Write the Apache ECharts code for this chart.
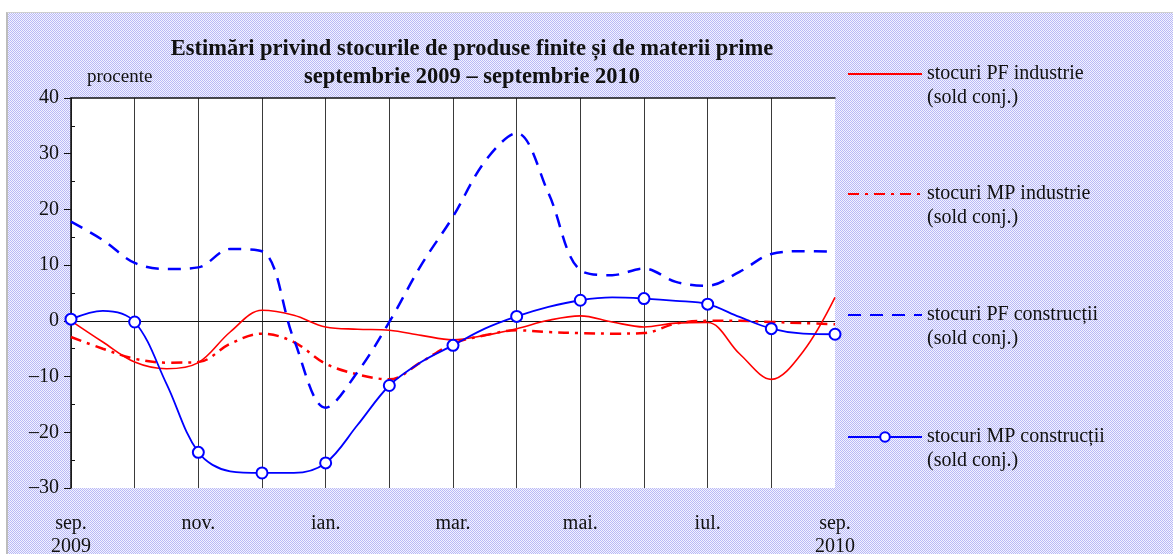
<!DOCTYPE html>
<html>
<head>
<meta charset="utf-8">
<script src="https://cdn.jsdelivr.net/npm/echarts@6/dist/echarts.min.js"></script>
<style>
  html, body { margin: 0; padding: 0; background: #fff; }
  #frame {
    position: absolute; left: 6px; top: 12px; width: 1167px; height: 542px;
    box-sizing: border-box;
    border-left: 2px solid #bdbdbd; border-top: 1px solid #cfcfcf;
    background: repeating-conic-gradient(#b9b9f6 0 25%, #f3f3ff 0 50%) 0 0 / 2px 2px;
  }
  #chart { position: absolute; left: 0; top: 0; width: 1173px; height: 554px; }
</style>
</head>
<body>
<div id="frame"></div>
<div id="chart"></div>
<script>
// luni (puncte la jumatate de luna intre ele)
var months = ['sep.', 'oct.', 'nov.', 'dec.', 'ian.', 'feb.', 'mar.', 'apr.', 'mai.', 'iun.', 'iul.', 'aug.', 'sep.'];
var years = ['2009', '2010'];
var yTicks = [-30, 40, 10];

// valori, sep 2009 .. sep 2010, pas de o jumatate de luna
var pfIndustrie = [0, -3.8, -7.4, -8.6, -7.5, -2.0, 1.9, 1.0, -1.1, -1.5, -1.7, -2.6, -3.4,
  -2.6, -1.4, 0.1, 0.9, -0.2, -1.1, -0.4, -0.3, -5.9, -10.5, -5.5, 4.2];
var mpIndustrie = [-2.9, -5.0, -6.8, -7.5, -7.4, -4.1, -2.3, -3.8, -7.7, -9.6, -10.5, -7.4, -4.1,
  -2.6, -1.7, -2.0, -2.2, -2.3, -2.2, -0.5, 0, 0, -0.2, -0.4, -0.6];
var pfConstructii = [17.8, 14.5, 10.4, 9.3, 9.6, 12.9, 12.5, -3.3, -15.6, -9.2, -0.2, 10.0, 18.7,
  28.6, 33.7, 22.9, 9.1, 8.2, 9.4, 7.0, 6.3, 8.8, 12.0, 12.5, 12.4];
var mpConstructii = [0.3, 1.8, -0.2, -11.3, -23.6, -27.0, -27.3, -27.3, -25.5, -18.7, -11.6, -7.4, -4.4,
  -1.4, 0.8, 2.5, 3.7, 4.2, 4.0, 3.6, 3.0, 0.7, -1.4, -2.3, -2.4];

var names = ['stocuri PF industrie', 'stocuri MP industrie', 'stocuri PF construcții', 'stocuri MP construcții'];

var categories = [];
for (var i = 0; i < months.length; i++) {
  categories.push(months[i]);
  if (i < months.length - 1) categories.push('');
}

var serif = '"Liberation Serif", "Times New Roman", serif';

var chart = echarts.init(document.getElementById('chart'), null, { renderer: 'canvas' });

function legendAt(name, top, hideSymbol) {
  return {
    data: [name],
    left: 847,
    top: top,
    padding: 0,
    itemWidth: 74,
    itemHeight: 12,
    selectedMode: false,
    itemStyle: hideSymbol ? { opacity: 0 } : {},
    // linie goala deasupra ca simbolul sa stea pe primul rand
    formatter: function (n) { return '\n' + n + '\n(sold conj.)'; },
    textStyle: { fontFamily: serif, fontSize: 20, color: '#111', lineHeight: 24 }
  };
}

chart.setOption({
  backgroundColor: 'transparent',
  animation: false,
  title: [
    {
      text: 'Estimări privind stocurile de produse finite și de materii prime\nseptembrie 2009 – septembrie 2010',
      left: 467, top: 30, textAlign: 'center',
      textStyle: { fontFamily: serif, fontSize: 22.5, fontWeight: 'bold', color: '#111', lineHeight: 28 }
    },
    {
      text: 'procente', left: 82, top: 63,
      textStyle: { fontFamily: serif, fontSize: 19, fontWeight: 'normal', color: '#111' }
    }
  ],
  legend: [
    legendAt(names[0], 38, true),
    legendAt(names[1], 158, true),
    legendAt(names[2], 279, true),
    legendAt(names[3], 401, false)
  ],
  grid: {
    left: 71, top: 98, width: 764, height: 390,
    outerBoundsMode: 'none', containLabel: false,
    show: true, backgroundColor: '#fff', borderWidth: 0
  },
  xAxis: [
    {
      type: 'category', data: categories, boundaryGap: false, position: 'bottom',
      axisLine: { show: false, onZero: false },
      axisTick: { show: false },
      splitLine: {
        show: true,
        interval: function (idx) { return idx % 2 === 0 && idx < categories.length - 1; },
        lineStyle: { color: '#3a3a3a', width: 1 }
      },
      axisLabel: {
        interval: function (idx) { return idx % 4 === 0; },
        margin: 24,
        fontFamily: serif, fontSize: 20, color: '#111', lineHeight: 23,
        formatter: function (v, idx) {
          if (idx === 0) return v + '\n' + years[0];
          if (idx === categories.length - 1) return v + '\n' + years[1];
          return v;
        }
      }
    },
    {
      type: 'category', data: categories, boundaryGap: false, position: 'top',
      axisLine: { show: true, onZero: false, lineStyle: { color: '#111', width: 1.5 } },
      axisTick: { show: false }, axisLabel: { show: false }, splitLine: { show: false }
    }
  ],
  yAxis: [
    {
      type: 'value', min: yTicks[0], max: yTicks[1], interval: yTicks[2], position: 'left',
      axisLine: { show: true, lineStyle: { color: '#111', width: 1.5 } },
      axisTick: { show: true, length: 7, lineStyle: { color: '#111' } },
      splitLine: { show: false },
      axisLabel: {
        margin: 12, fontFamily: serif, fontSize: 20, color: '#111',
        formatter: function (v) { return String(v).replace('-', '–'); }
      }
    },
    {
      type: 'value', min: yTicks[0], max: yTicks[1], interval: yTicks[2], position: 'right', offset: -764,
      axisLine: { show: false }, axisLabel: { show: false }, splitLine: { show: false },
      axisTick: { show: false },
      minorTick: { show: true, splitNumber: 2, length: 4, lineStyle: { color: '#111' } }
    }
  ],
  series: [
    {
      name: names[0], type: 'line', smooth: 0.35, symbol: 'none', z: 3,
      data: pfIndustrie,
      lineStyle: { color: '#ff0000', width: 1.6 }, itemStyle: { color: '#ff0000' },
      markLine: {
        silent: true, symbol: 'none', label: { show: false }, z: 1,
        lineStyle: { color: '#111', width: 1.2, type: 'solid' },
        data: [{ yAxis: 0 }]
      }
    },
    {
      name: names[1], type: 'line', smooth: 0.35, symbol: 'none', z: 3,
      data: mpIndustrie,
      lineStyle: { color: '#ff0000', width: 2.5, type: [11, 6, 3, 6] }, itemStyle: { color: '#ff0000' }
    },
    {
      name: names[2], type: 'line', smooth: 0.35, symbol: 'none', z: 3,
      data: pfConstructii,
      lineStyle: { color: '#0000ff', width: 2.5, type: [13, 9] }, itemStyle: { color: '#0000ff' }
    },
    {
      name: names[3], type: 'line', smooth: 0.35, z: 4,
      symbol: 'circle', symbolSize: 11,
      data: mpConstructii.map(function (v, i) { return i % 2 ? { value: v, symbol: 'none' } : v; }),
      lineStyle: { color: '#0000ff', width: 1.8 },
      itemStyle: { color: '#fff', borderColor: '#0000ff', borderWidth: 2 }
    }
  ]
});
</script>
</body>
</html>
